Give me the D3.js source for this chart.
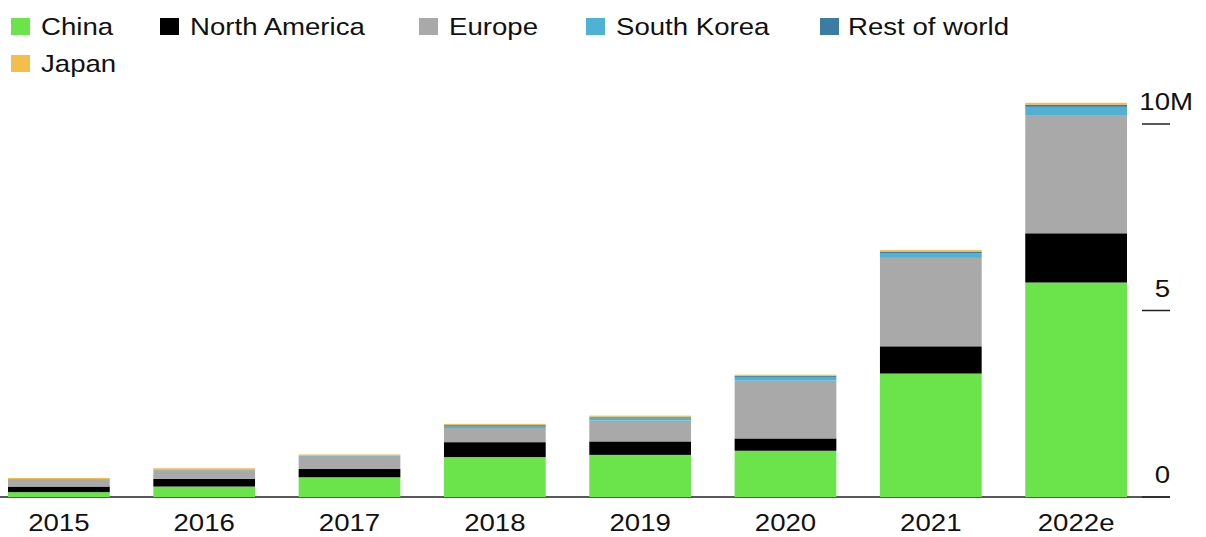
<!DOCTYPE html>
<html>
<head>
<meta charset="utf-8">
<script src="https://cdn.jsdelivr.net/npm/d3@7"></script>
<style>
  body { margin: 0; background: #fff; }
  text { font-family: "Liberation Sans", Arial, sans-serif; fill: #111; }
</style>
</head>
<body>
<div id="chart"></div>
<script>
// categories and series (millions of vehicles)
let years = ["2015", "2016", "2017", "2018", "2019", "2020", "2021", "2022e"]
let china        = [0.13, 0.28, 0.53, 1.07, 1.13, 1.24, 3.31, 5.75]
let northAmerica = [0.15, 0.21, 0.22, 0.40, 0.36, 0.33, 0.73, 1.32]
let europe       = [0.18, 0.23, 0.33, 0.38, 0.56, 1.55, 2.37, 3.17]
let southKorea   = [0.01, 0.01, 0.01, 0.06, 0.08, 0.10, 0.13, 0.22]
let restOfWorld  = [0.01, 0.01, 0.01, 0.02, 0.02, 0.03, 0.04, 0.06]
let japan        = [0.03, 0.03, 0.04, 0.03, 0.03, 0.03, 0.04, 0.05]

let seriesNames = ["China", "North America", "Europe", "South Korea", "Rest of world", "Japan"]
let seriesColors = ["#6be34b", "#000000", "#a9a9a9", "#4fb2d4", "#3b7ca4", "#f4be4a"]
let yTicks = [0, 5, 10]

// table for d3.stack
let table = years.map(function(y, i) {
  return {
    year: y,
    "China": china[i],
    "North America": northAmerica[i],
    "Europe": europe[i],
    "South Korea": southKorea[i],
    "Rest of world": restOfWorld[i],
    "Japan": japan[i]
  }
})

let W = 1206, H = 537
let stretch = 1.15   // text in the picture is a bit wide

let svg = d3.select("#chart").append("svg")
  .attr("width", W)
  .attr("height", H)

let x = d3.scaleBand()
  .domain(years)
  .range([8, 1127])
  .paddingInner(0.3)
  .paddingOuter(0)

let y = d3.scaleLinear()
  .domain([0, 10])
  .range([497, 124])

let color = d3.scaleOrdinal().domain(seriesNames).range(seriesColors)

// baseline
svg.append("line")
  .attr("x1", 0).attr("x2", 1170)
  .attr("y1", y(0)).attr("y2", y(0))
  .style("stroke", "#222")
  .style("stroke-width", 1.5)

// stacked bars
let stacked = d3.stack().keys(seriesNames)(table)

svg.selectAll("g.layer")
  .data(stacked)
  .enter()
  .append("g")
    .attr("class", "layer")
    .style("fill", d => color(d.key))
  .selectAll("rect")
  .data(d => d)
  .enter()
  .append("rect")
    .attr("x", d => x(d.data.year))
    .attr("width", x.bandwidth())
    .attr("y", d => y(d[1]))
    .attr("height", d => y(d[0]) - y(d[1]))

// year labels
svg.selectAll("text.year")
  .data(years)
  .enter()
  .append("text")
    .attr("class", "year")
    .attr("text-anchor", "middle")
    .attr("transform", d => "translate(" + (x(d) + x.bandwidth() / 2) + ",531) scale(" + stretch + ",1)")
    .style("font-size", "24px")
    .text(d => d)

// y ticks on the right, labels sit above the tick
let tickG = svg.selectAll("g.ytick")
  .data(yTicks)
  .enter()
  .append("g")
    .attr("class", "ytick")

tickG.append("line")
  .attr("x1", 1142).attr("x2", 1170)
  .attr("y1", d => y(d)).attr("y2", d => y(d))
  .style("stroke", "#222")
  .style("stroke-width", 1.5)

tickG.append("text")
  .attr("text-anchor", "end")
  .attr("transform", d => "translate(1170," + (y(d) - 14) + ") scale(" + stretch + ",1)")
  .style("font-size", "24px")
  .text(d => d)

// unit suffix hangs past the top label
svg.append("text")
  .attr("transform", "translate(1170," + (y(10) - 14) + ") scale(" + stretch + ",1)")
  .style("font-size", "24px")
  .text("M")

// legend
let legendPos = [
  {sx: 11, tx: 41, row: 0},
  {sx: 160, tx: 190, row: 0},
  {sx: 419, tx: 449, row: 0},
  {sx: 586, tx: 616, row: 0},
  {sx: 820, tx: 848, row: 0},
  {sx: 11, tx: 41, row: 1}
]

let legend = svg.selectAll("g.legend")
  .data(seriesNames)
  .enter()
  .append("g")
    .attr("class", "legend")

legend.append("rect")
  .attr("x", (d, i) => legendPos[i].sx)
  .attr("y", (d, i) => 18 + legendPos[i].row * 37)
  .attr("width", 19)
  .attr("height", 17)
  .style("fill", d => color(d))

legend.append("text")
  .attr("transform", (d, i) => "translate(" + legendPos[i].tx + "," + (35 + legendPos[i].row * 37) + ") scale(" + stretch + ",1)")
  .style("font-size", "24px")
  .text(d => d)
</script>
</body>
</html>
